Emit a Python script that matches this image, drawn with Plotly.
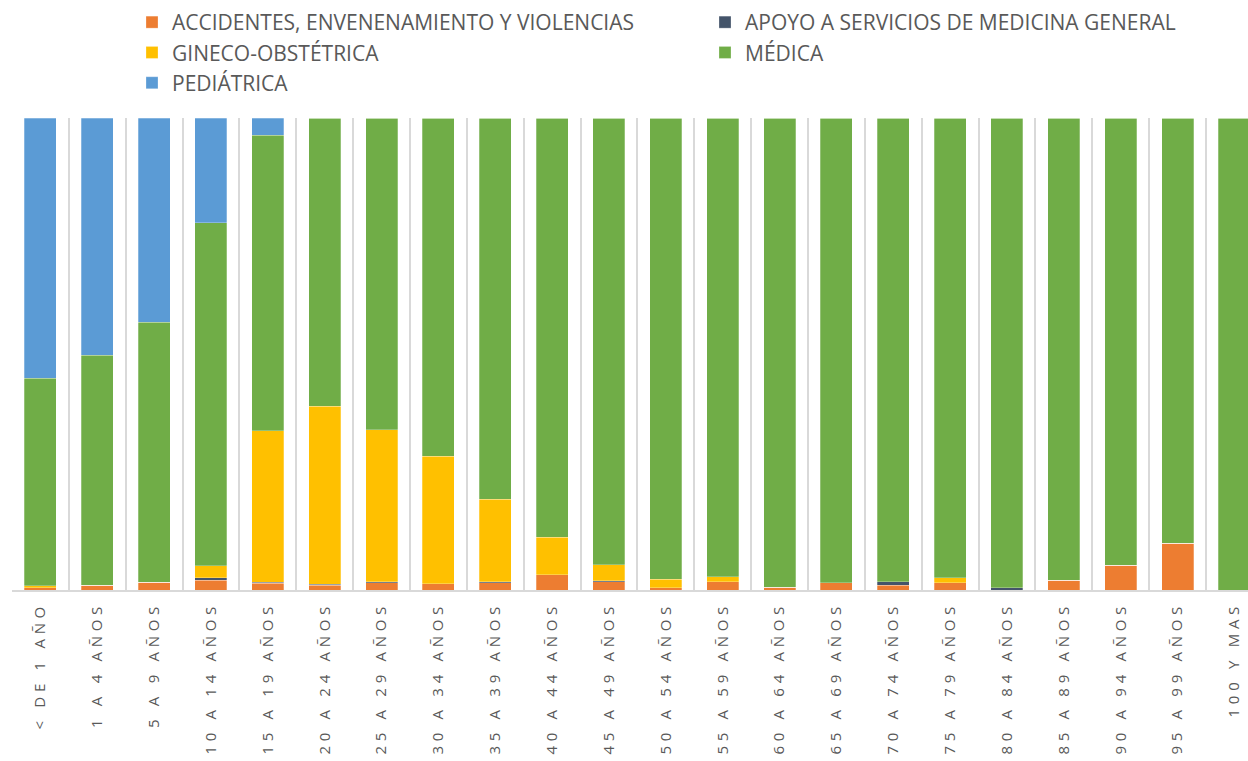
import plotly.graph_objects as go

categories = ["< DE 1 AÑO", "1 A 4 AÑOS", "5 A 9 AÑOS", "10 A 14 AÑOS", "15 A 19 AÑOS",
              "20 A 24 AÑOS", "25 A 29 AÑOS", "30 A 34 AÑOS", "35 A 39 AÑOS", "40 A 44 AÑOS",
              "45 A 49 AÑOS", "50 A 54 AÑOS", "55 A 59 AÑOS", "60 A 64 AÑOS", "65 A 69 AÑOS",
              "70 A 74 AÑOS", "75 A 79 AÑOS", "80 A 84 AÑOS", "85 A 89 AÑOS", "90 A 94 AÑOS",
              "95 A 99 AÑOS", "100 Y MAS"]

accidentes = [0.5, 1.0, 1.6, 2.1, 1.4, 1.0, 1.5, 1.3, 1.5, 3.2, 1.8, 0.5, 1.8, 0.6, 1.5,
              1.0, 1.5, 0.0, 2.1, 5.2, 9.9, 0.0]
apoyo = [0.0, 0.0, 0.0, 0.5, 0.2, 0.2, 0.3, 0.0, 0.2, 0.0, 0.2, 0.0, 0.0, 0.0, 0.0,
         0.8, 0.0, 0.5, 0.0, 0.0, 0.0, 0.0]
gineco = [0.4, 0.0, 0.0, 2.5, 32.1, 37.7, 32.1, 27.0, 17.5, 8.0, 3.3, 1.8, 1.0, 0.0, 0.0,
          0.0, 1.1, 0.0, 0.0, 0.0, 0.0, 0.0]
medica = [44.0, 48.7, 55.1, 72.7, 62.6, 61.1, 66.1, 71.7, 80.8, 88.8, 94.7, 97.7, 97.2, 99.4, 98.5,
          98.2, 97.4, 99.5, 97.9, 94.8, 90.1, 100.0]
pediatrica = [55.1, 50.3, 43.3, 22.2, 3.7, 0.0, 0.0, 0.0, 0.0, 0.0, 0.0, 0.0, 0.0, 0.0, 0.0,
              0.0, 0.0, 0.0, 0.0, 0.0, 0.0, 0.0]

series = [
    ("ACCIDENTES, ENVENENAMIENTO Y VIOLENCIAS", accidentes, "#ED7D31", "legend"),
    ("APOYO A SERVICIOS DE MEDICINA GENERAL", apoyo, "#44546A", "legend2"),
    ("GINECO-OBSTÉTRICA", gineco, "#FFC000", "legend"),
    ("MÉDICA", medica, "#70AD47", "legend2"),
    ("PEDIÁTRICA", pediatrica, "#5B9BD5", "legend"),
]

fig = go.Figure()
for name, vals, color, lg in series:
    fig.add_trace(go.Bar(
        x=categories, y=vals, name=name, legend=lg,
        marker=dict(color=color, line=dict(color="rgba(255,255,255,0.35)", width=0.75)),
    ))

legend_font = dict(family="Open Sans", size=21, color="#595959")
fig.update_layout(
    width=1248, height=761,
    barmode="stack", barnorm="percent", bargap=0.437,
    paper_bgcolor="white", plot_bgcolor="white",
    margin=dict(l=12, r=0, t=118, b=171, autoexpand=False),
    showlegend=True,
    legend=dict(xref="container", yref="container", x=132/1248, y=1-2/761,
                xanchor="left", yanchor="top", orientation="v",
                font=legend_font, bgcolor="rgba(0,0,0,0)", traceorder="normal"),
    legend2=dict(xref="container", yref="container", x=705/1248, y=1-2/761,
                 xanchor="left", yanchor="top", orientation="v",
                 font=legend_font, bgcolor="rgba(0,0,0,0)", traceorder="normal"),
    xaxis=dict(
        range=[-0.5, 21.24], tickangle=-90, tickson="boundaries",
        showgrid=True, gridcolor="#D9D9D9", gridwidth=2,
        showline=True, linecolor="#D9D9D9", linewidth=2,
        ticks="", ticklabelstandoff=4, automargin=False,
        tickfont=dict(family="Open Sans", size=15, color="#595959"),
    ),
    yaxis=dict(range=[0, 100], showgrid=False, showticklabels=False, zeroline=False,
               ticks="", automargin=False),
)

post = """
document.body.style.margin = '0';
document.body.style.overflow = 'hidden';
var s = document.createElement('style');
s.innerHTML = '.xtick text { letter-spacing: 4.7px; }';
document.head.appendChild(s);
"""

fig.write_html("out.html", post_script=post, config={"displayModeBar": False})
